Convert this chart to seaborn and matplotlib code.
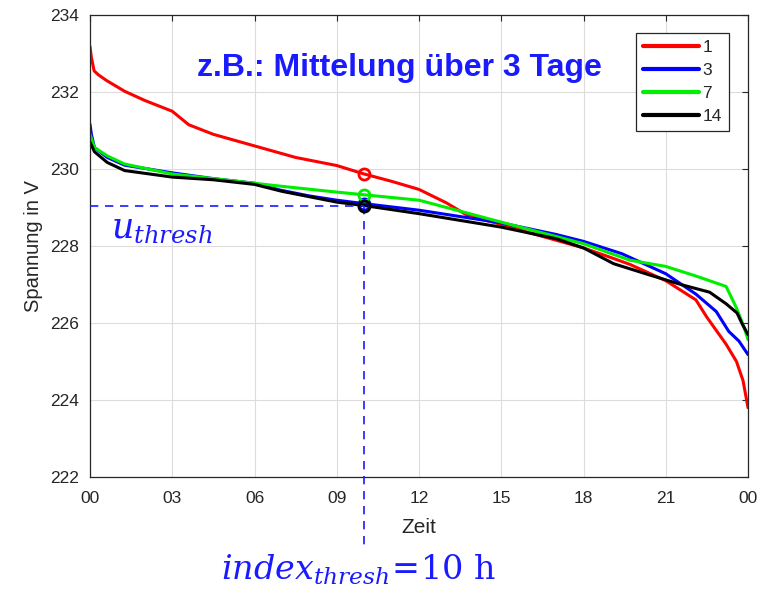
import numpy as np
import pandas as pd
import matplotlib
matplotlib.use("Agg")
import matplotlib.pyplot as plt
import seaborn as sns

# ---- data (hours of day, voltage in V) ----
t_1 = [0, 0.05, 0.15, 0.3, 0.6, 1.26, 2.0, 3.0, 3.6, 4.5, 6.0, 7.5, 9.0, 10.0, 11.0, 12.0,
       13.0, 13.8, 14.8, 16.0, 17.0, 18.0, 19.0, 19.7, 21.0, 22.1, 22.5, 23.2, 23.58, 23.82, 24.0]
v_1 = [233.18, 232.9, 232.55, 232.45, 232.3, 232.02, 231.78, 231.5, 231.15, 230.9, 230.6,
       230.3, 230.09, 229.87, 229.68, 229.47, 229.12, 228.78, 228.6, 228.35, 228.15, 227.95,
       227.7, 227.52, 227.1, 226.6, 226.15, 225.45, 225.0, 224.5, 223.8]

t_3 = [0, 0.05, 0.16, 0.63, 1.26, 3.0, 4.5, 6.0, 6.95, 8.0, 9.0, 10.0, 12.0, 15.0, 17.0, 18.0,
       19.4, 21.0, 22.1, 22.84, 23.3, 23.67, 24.0]
v_3 = [231.16, 230.9, 230.56, 230.3, 230.1, 229.9, 229.75, 229.63, 229.45, 229.3, 229.19, 229.1,
       228.93, 228.6, 228.3, 228.12, 227.8, 227.28, 226.75, 226.3, 225.78, 225.53, 225.18]

t_7 = [0, 0.16, 0.63, 1.26, 3.0, 4.5, 6.0, 7.0, 9.0, 10.0, 12.0, 15.0, 18.0, 19.7, 21.0, 22.1,
       23.2, 23.58, 23.85, 24.0]
v_7 = [230.9, 230.56, 230.34, 230.13, 229.87, 229.75, 229.63, 229.55, 229.4, 229.33, 229.19,
       228.62, 228.06, 227.63, 227.47, 227.22, 226.95, 226.39, 225.9, 225.57]

t_14 = [0, 0.16, 0.63, 1.26, 3.0, 4.5, 6.0, 7.0, 9.0, 10.0, 12.0, 15.0, 17.0, 18.0, 19.1, 20.4,
        21.6, 22.6, 23.2, 23.6, 23.8, 24.0]
v_14 = [230.7, 230.45, 230.17, 229.96, 229.79, 229.72, 229.6, 229.42, 229.14, 229.05, 228.84,
        228.49, 228.19, 227.95, 227.54, 227.25, 226.99, 226.8, 226.5, 226.26, 225.96, 225.7]

series_names = ["1", "3", "7", "14"]
series_t = [t_1, t_3, t_7, t_14]
series_v = [v_1, v_3, v_7, v_14]
colors = ["#ff0000", "#0000ff", "#00ee00", "#000000"]

x_ticks = [0, 3, 6, 9, 12, 15, 18, 21, 24]
x_ticklabels = ["00", "03", "06", "09", "12", "15", "18", "21", "00"]
y_ticks = [222, 224, 226, 228, 230, 232, 234]

t_thresh = 10.0

frames = []
for name, t, v in zip(series_names, series_t, series_v):
    frames.append(pd.DataFrame({"Zeit": t, "Spannung": v, "Tage": name}))
df = pd.concat(frames, ignore_index=True)

sns.set_style("whitegrid")
plt.rcParams["font.family"] = ["Liberation Sans", "DejaVu Sans"]
plt.rcParams["mathtext.fontset"] = "dejavuserif"

fig = plt.figure(figsize=(7.69, 5.92), dpi=100)
ax = fig.add_axes([90 / 769, 1 - 477 / 592, (748 - 90) / 769, (477 - 15) / 592])

sns.lineplot(data=df, x="Zeit", y="Spannung", hue="Tage", hue_order=series_names,
             palette=colors, linewidth=2.2, ax=ax, estimator=None, sort=False)

# threshold markers
for t, v, c in zip(series_t, series_v, colors):
    vt = np.interp(t_thresh, t, v)
    ax.plot([t_thresh], [vt], marker="o", ms=8, mfc="none", mec=c, mew=2, zorder=5)

u_thresh = np.interp(t_thresh, t_14, v_14)
blue = "#1a1aff"
ax.plot([0, t_thresh], [u_thresh, u_thresh], ls=(0, (5, 4)), color=blue, lw=1.2, zorder=4)
ax.plot([t_thresh, t_thresh], [u_thresh, 220.15], ls=(0, (5, 4)), color=blue, lw=1.2,
        clip_on=False, zorder=4)

ax.set_xlim(0, 24)
ax.set_ylim(222, 234)
ax.set_xticks(x_ticks)
ax.set_xticklabels(x_ticklabels)
ax.set_yticks(y_ticks)
ax.tick_params(direction="in", top=True, right=True, length=4, labelsize=12.5,
               colors="#262626", labelcolor="#262626", width=0.8)
ax.tick_params(axis="x", pad=10)
ax.tick_params(axis="y", pad=8)
ax.grid(True, color="#dcdcdc", lw=0.8)
for s in ax.spines.values():
    s.set_color("#262626")
    s.set_linewidth(0.9)
ax.set_xlabel("Zeit", fontsize=15, color="#262626", labelpad=9)
ax.set_ylabel("Spannung in V", fontsize=14.5, color="#262626", labelpad=5)

leg = ax.legend(loc="upper right", bbox_to_anchor=(0.984, 0.98), fontsize=12.5,
                frameon=True, fancybox=False, framealpha=1, edgecolor="#262626",
                handlelength=3.2, handletextpad=0.2, borderpad=0.4, labelspacing=0.45)
leg.get_frame().set_linewidth(0.9)
for line in leg.get_lines():
    line.set_linewidth(3)

ax.text(0.47, 0.885, "z.B.: Mittelung über 3 Tage", transform=ax.transAxes,
        ha="center", va="center", color="#1a1aff", fontsize=23, fontweight="bold")

ax.text(0.75, 228.45, r"$u_{thresh}$", color=blue, fontsize=25, ha="left", va="center")
fig.text(359 / 769, 1 - 570 / 592, r"$index_{thresh}\!=\!10\ \mathrm{h}$", color=blue,
         fontsize=24, ha="center", va="center")

fig.savefig("out.png", dpi=100)
